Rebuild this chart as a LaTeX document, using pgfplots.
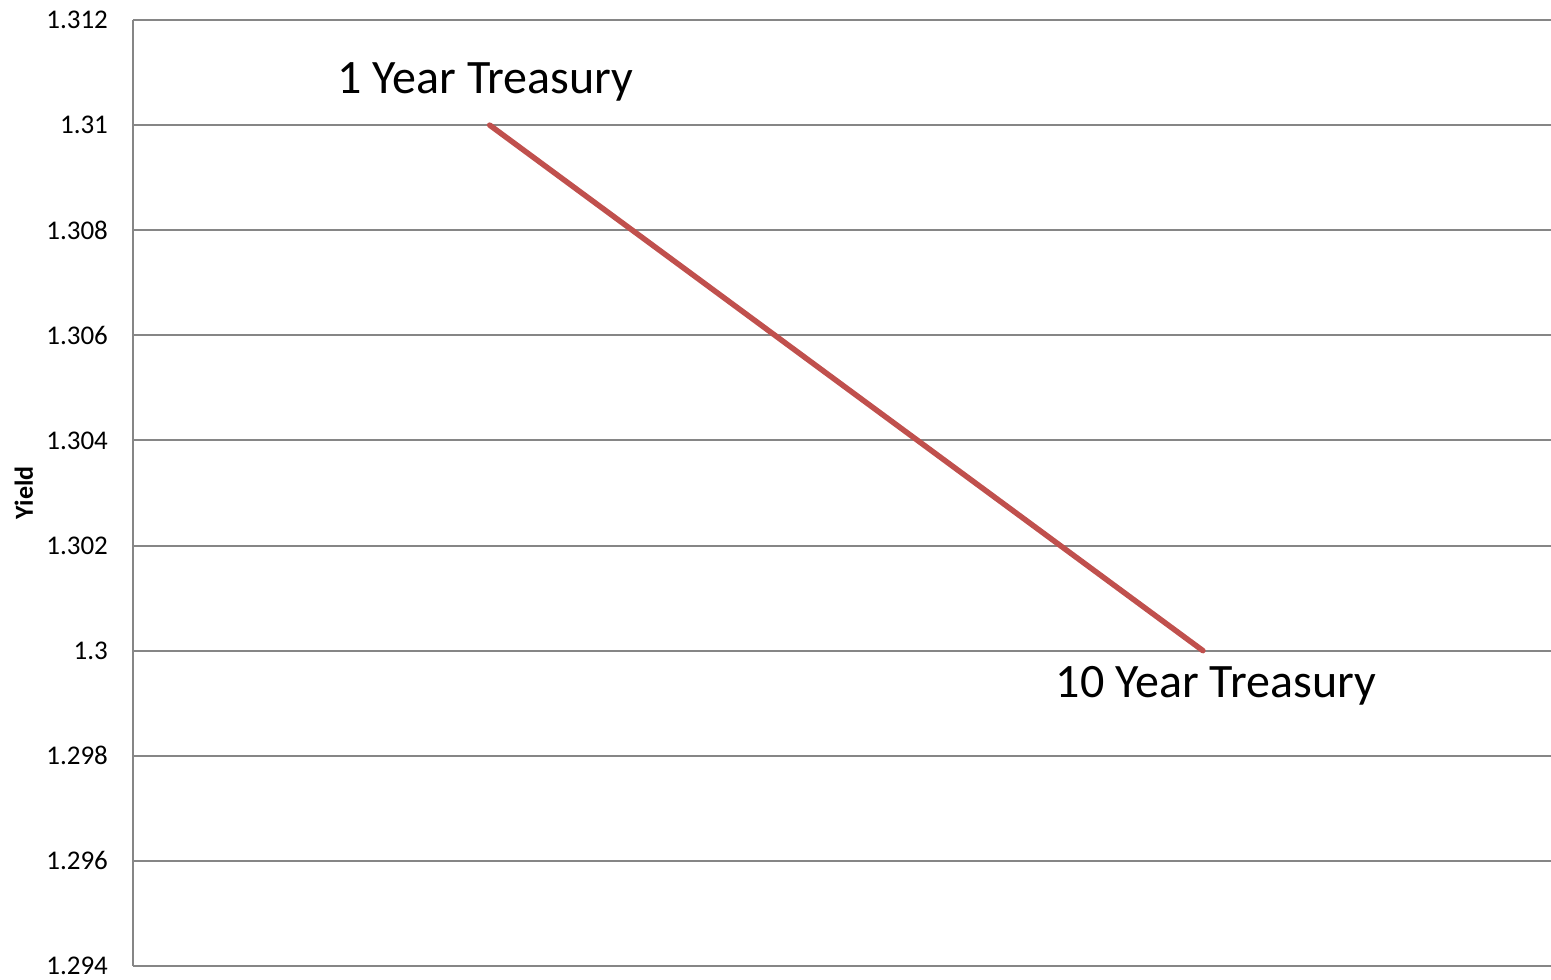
\documentclass[border=0pt]{standalone}
\usepackage{fontspec}
\setmainfont{Carlito}
\usepackage{pgfplots}
\pgfplotsset{compat=1.18}
\definecolor{gridgray}{RGB}{134,134,134}
\definecolor{exred}{RGB}{192,80,77}
\begin{document}
\begin{tikzpicture}
\begin{axis}[
  scale only axis,
  width=709pt, height=473pt,
  xmin=-0.5, xmax=1.488,
  ymin=1.294, ymax=1.312,
  ytick={1.294,1.296,1.298,1.3,1.302,1.304,1.306,1.308,1.31,1.312},
  xtick=\empty,
  axis x line=bottom, axis y line=left,
  axis line style={-, gridgray, line width=1pt},
  ymajorgrids,
  grid style={gridgray, line width=1pt},
  major tick length=0pt,
  /pgf/number format/assume math mode=true,
  yticklabel style={font=\fontsize{13.5}{16}\selectfont, xshift=-9pt,
    /pgf/number format/fixed, /pgf/number format/precision=3},
  ylabel={\textbf{Yield}},
  ylabel style={font=\fontsize{13}{15}\selectfont, at={(axis description cs:-0.0769,0.5)}, anchor=center},
]
\addplot[exred, line width=2.75pt, line cap=round] coordinates {
  (0, 1.310)
  (1, 1.300)
};
\node[anchor=base, font=\fontsize{24}{29}\selectfont, xshift=-2pt, yshift=16pt] at (axis cs:0,1.310) {1 Year Treasury};
\node[anchor=base, font=\fontsize{24}{29}\selectfont, xshift=6.5pt, yshift=-23.5pt] at (axis cs:1,1.300) {10 Year Treasury};
\end{axis}
\pgfresetboundingbox
\path ([xshift=-66.5pt,yshift=-6.5pt]current axis.south west) rectangle ([yshift=10pt]current axis.north east);
\end{tikzpicture}
\end{document}
